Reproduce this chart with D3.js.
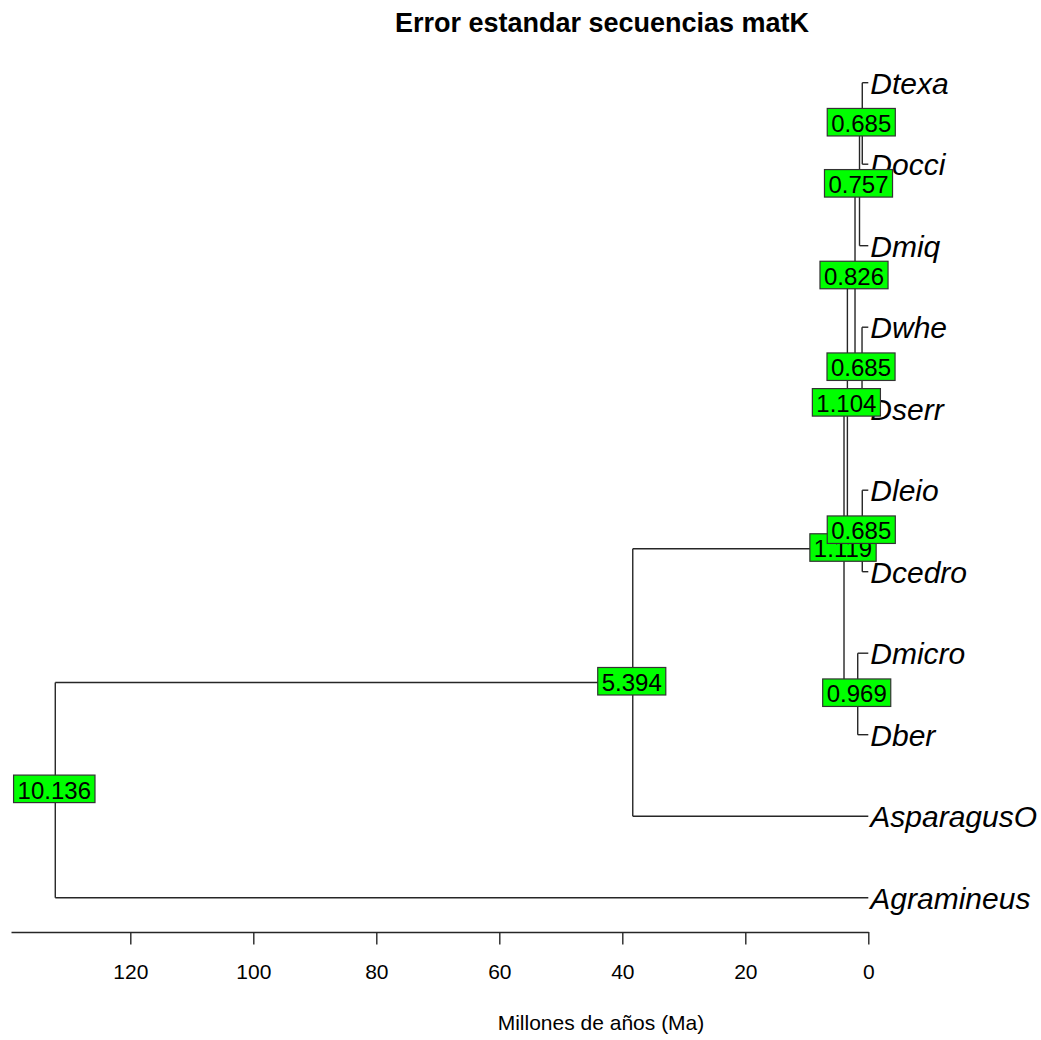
<!DOCTYPE html>
<html>
<head>
<meta charset="utf-8">
<title>Error estandar secuencias matK</title>
<script src="https://d3js.org/d3.v7.min.js"></script>
<style>
    body { margin: 0; background: #fff; }
    text { font-family: "Liberation Sans", Arial, sans-serif; }
</style>
</head>
<body>
<div id="chart"></div>
<script type="text/javascript">
    // tips from top to bottom, and the internal node each one hangs from
    let tipNames   = ["Dtexa", "Docci", "Dmiq", "Dwhe", "Dserr", "Dleio", "Dcedro", "Dmicro", "Dber", "AsparagusO", "Agramineus"];
    let tipParents = ["N7", "N7", "N6", "N8", "N8", "N9", "N9", "N10", "N10", "N2", "N1"];

    // internal nodes (preorder), age in Ma and standard error label
    let nodeNames   = ["N1", "N2", "N3", "N4", "N5", "N6", "N7", "N8", "N9", "N10"];
    let nodeParents = ["", "N1", "N2", "N3", "N4", "N5", "N6", "N5", "N4", "N3"];
    let nodeAges    = [132.2, 38.3, 3.95, 3.4, 2.16, 1.43, 0.98, 1.02, 0.98, 1.72];
    let nodeLabels  = ["10.136", "5.394", "1.119", "1.104", "0.826", "0.757", "0.685", "0.685", "0.685", "0.969"];

    let axisTicks = [120, 100, 80, 60, 40, 20, 0];

    let w = 1041, h = 1040;
    let axisY = 932;

    let svg = d3.select("#chart")
        .append("svg")
            .attr("width", w)
            .attr("height", h)
            .style("background-color", "#fff");

    // age scale, 0 Ma on the right
    let xScale = d3.scaleLinear()
        .domain([139.4, 0])
        .range([11, 868.3]);
    let yScale = d3.scaleLinear()
        .domain([0, tipNames.length - 1])
        .range([82.7, 897.7]);

    let rows = nodeNames.map(function(n, i) {
        return {id: n, parent: nodeParents[i] || null, age: nodeAges[i], label: nodeLabels[i]};
    }).concat(tipNames.map(function(t, i) {
        return {id: t, parent: tipParents[i], age: 0, tip: i};
    }));

    let root = d3.stratify()
        .id(function(d) { return d.id; })
        .parentId(function(d) { return d.parent; })(rows);

    root.eachAfter(function(n) {
        n.px = xScale(n.data.age);
        if (n.children) {
            let ys = n.children.map(function(c) { return c.py; });
            n.py = (d3.min(ys) + d3.max(ys)) / 2;
        } else {
            n.py = yScale(n.data.tip);
        }
    });

    let lineColor = "#262626";

    // horizontal branches
    svg.append("g").selectAll("path")
        .data(root.links())
        .enter()
        .append("path")
        .attr("d", function(l) {
            return "M" + l.source.px + "," + l.target.py + "H" + l.target.px;
        })
        .attr("fill", "none")
        .attr("stroke", lineColor)
        .attr("stroke-width", 1.4);

    // vertical connectors
    let internal = [];
    root.eachBefore(function(n) { if (n.children) internal.push(n); });

    svg.append("g").selectAll("path")
        .data(internal)
        .enter()
        .append("path")
        .attr("d", function(n) {
            let ys = n.children.map(function(c) { return c.py; });
            return "M" + n.px + "," + d3.min(ys) + "V" + d3.max(ys);
        })
        .attr("fill", "none")
        .attr("stroke", lineColor)
        .attr("stroke-width", 1.4);

    // tip labels
    svg.append("g").selectAll("text")
        .data(root.leaves())
        .enter()
        .append("text")
        .attr("x", function(n) { return n.px + 2; })
        .attr("y", function(n) { return n.py + 11; })
        .attr("font-size", "30px")
        .attr("font-style", "italic")
        .attr("fill", "#000")
        .text(function(n) { return n.id; });

    // node labels in green boxes, drawn in preorder
    let boxes = svg.append("g").selectAll("g")
        .data(internal)
        .enter()
        .append("g")
        .attr("transform", function(n) { return "translate(" + (n.px - 1) + "," + n.py + ")"; });

    boxes.append("rect");
    boxes.append("text")
        .attr("text-anchor", "middle")
        .attr("y", 8.5)
        .attr("font-size", "24px")
        .attr("fill", "#000")
        .text(function(n) { return n.data.label; });

    boxes.each(function() {
        let g = d3.select(this);
        let tw = g.select("text").node().getComputedTextLength();
        g.select("rect")
            .attr("x", -tw / 2 - 4)
            .attr("y", -15)
            .attr("width", tw + 8)
            .attr("height", 27.5)
            .attr("fill", "#00ff00")
            .attr("stroke", "#333")
            .attr("stroke-width", 1.2);
    });

    // time axis
    let xAxis = d3.axisBottom(xScale)
        .tickValues(axisTicks)
        .tickFormat(d3.format("d"))
        .tickSizeInner(12.5)
        .tickSizeOuter(0)
        .tickPadding(20);

    let ax = svg.append("g")
        .attr("transform", "translate(0," + axisY + ")")
        .call(xAxis);
    ax.select(".domain").attr("stroke", lineColor).attr("stroke-width", 1.4);
    ax.selectAll(".tick line").attr("stroke", lineColor).attr("stroke-width", 1.4);
    ax.selectAll(".tick text")
        .attr("font-family", "\"Liberation Sans\", Arial, sans-serif")
        .attr("font-size", "21px")
        .attr("fill", "#000");

    // axis title
    svg.append("text")
        .attr("x", 601)
        .attr("y", 1030)
        .attr("text-anchor", "middle")
        .attr("font-size", "21px")
        .attr("fill", "#000")
        .text("Millones de años (Ma)");

    // main title
    svg.append("text")
        .attr("x", 602)
        .attr("y", 32)
        .attr("text-anchor", "middle")
        .attr("font-size", "27px")
        .attr("font-weight", "bold")
        .attr("fill", "#000")
        .text("Error estandar secuencias matK");
</script>
</body>
</html>
